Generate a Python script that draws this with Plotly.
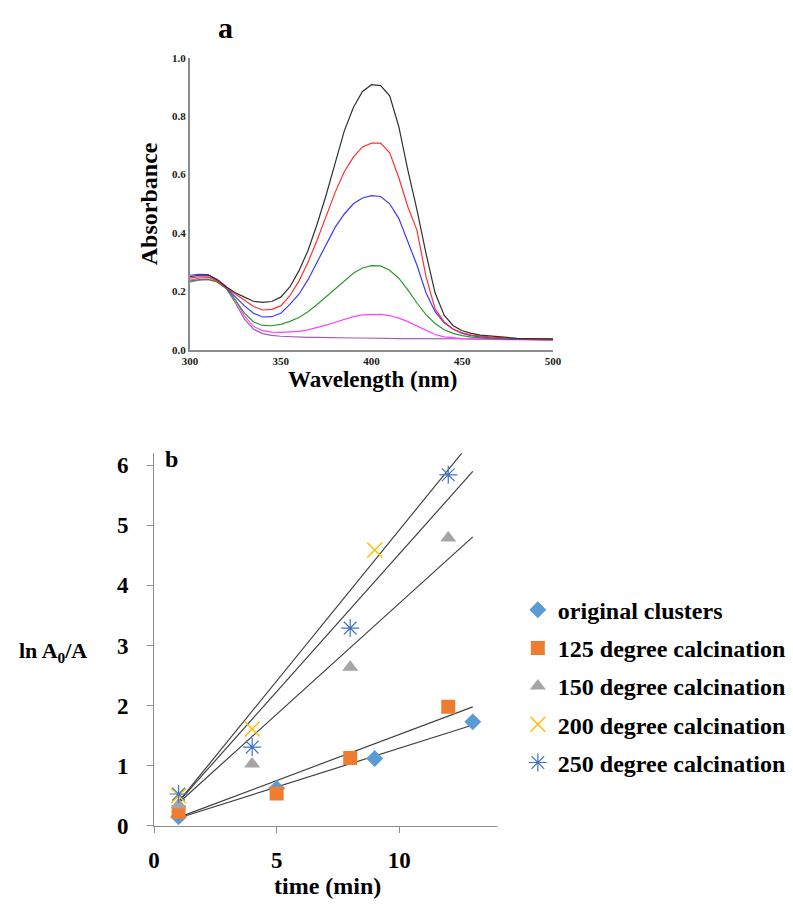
import plotly.graph_objects as go

# ---------------- Panel a data ----------------
wavelength = list(range(300, 505, 5))
abs_black = [0.250, 0.255, 0.256, 0.240, 0.215, 0.195, 0.180, 0.166, 0.162, 0.165,
             0.180, 0.215, 0.270, 0.340, 0.430, 0.530, 0.640, 0.750, 0.830, 0.885,
             0.908, 0.905, 0.870, 0.765, 0.615, 0.480, 0.330, 0.195, 0.118, 0.082,
             0.065, 0.056, 0.050, 0.047, 0.044, 0.041, 0.039, 0.038, 0.038, 0.037, 0.037]
abs_red = [0.245, 0.250, 0.250, 0.235, 0.212, 0.190, 0.168, 0.148, 0.136, 0.138,
           0.150, 0.185, 0.235, 0.300, 0.375, 0.460, 0.540, 0.610, 0.660, 0.695,
           0.708, 0.708, 0.675, 0.590, 0.490, 0.410, 0.250, 0.140, 0.095, 0.070,
           0.058, 0.050, 0.046, 0.043, 0.041, 0.039, 0.037, 0.036, 0.036, 0.035, 0.035]
abs_blue = [0.255, 0.258, 0.257, 0.240, 0.212, 0.180, 0.150, 0.125, 0.112, 0.113,
            0.125, 0.155, 0.190, 0.240, 0.300, 0.365, 0.420, 0.465, 0.500, 0.520,
            0.528, 0.525, 0.500, 0.450, 0.370, 0.290, 0.195, 0.130, 0.092, 0.070,
            0.056, 0.048, 0.044, 0.041, 0.039, 0.037, 0.036, 0.035, 0.035, 0.034, 0.034]
abs_green = [0.235, 0.240, 0.242, 0.232, 0.210, 0.170, 0.125, 0.095, 0.083, 0.082,
             0.087, 0.097, 0.110, 0.130, 0.155, 0.182, 0.210, 0.237, 0.262, 0.280,
             0.288, 0.287, 0.272, 0.245, 0.205, 0.160, 0.120, 0.090, 0.068, 0.056,
             0.048, 0.043, 0.040, 0.038, 0.037, 0.036, 0.035, 0.034, 0.034, 0.034, 0.034]
abs_magenta = [0.238, 0.245, 0.248, 0.240, 0.218, 0.170, 0.115, 0.080, 0.065, 0.060,
               0.059, 0.060, 0.063, 0.068, 0.075, 0.084, 0.094, 0.104, 0.113, 0.119,
               0.121, 0.121, 0.117, 0.108, 0.096, 0.082, 0.066, 0.052, 0.044, 0.040,
               0.038, 0.036, 0.035, 0.035, 0.034, 0.034, 0.034, 0.033, 0.033, 0.033, 0.033]
abs_purple = [0.232, 0.238, 0.240, 0.232, 0.210, 0.160, 0.105, 0.070, 0.055, 0.049,
              0.046, 0.044, 0.043, 0.042, 0.042, 0.041, 0.041, 0.040, 0.040, 0.040,
              0.039, 0.039, 0.039, 0.038, 0.038, 0.038, 0.038, 0.037, 0.037, 0.037,
              0.037, 0.037, 0.036, 0.036, 0.036, 0.036, 0.036, 0.036, 0.036, 0.036, 0.036]
spectra = [abs_purple, abs_magenta, abs_green, abs_blue, abs_red, abs_black]
spectra_colors = ["#a060b0", "#ff40ff", "#2e9a2e", "#3a3aff", "#ff3030", "#303030"]

# ---------------- Panel b data ----------------
series_names = ["original clusters", "125 degree calcination", "150 degree calcination",
                "200 degree calcination", "250 degree calcination"]
t_orig = [1, 5, 9, 13]
y_orig = [0.15, 0.62, 1.12, 1.73]
t_125 = [1, 5, 8, 12]
y_125 = [0.23, 0.54, 1.13, 1.98]
t_150 = [1, 4, 8, 12]
y_150 = [0.35, 1.03, 2.64, 4.79]
t_200 = [1, 4, 9]
y_200 = [0.50, 1.61, 4.59]
t_250 = [1, 4, 8, 12]
y_250 = [0.53, 1.31, 3.29, 5.84]
# trendlines (slope, intercept), drawn over t = 1..13
trend_slope = [0.129, 0.1533, 0.369, 0.502, 0.458]
trend_intercept = [0.001, -0.013, 0.011, -0.10, -0.058]
trend_t = [1, 13]

W, H = 793, 911
def px(x):
    return x / W
def py(y):
    return 1 - y / H

fig = go.Figure()

for vals, col in zip(spectra, spectra_colors):
    fig.add_trace(go.Scatter(x=wavelength, y=vals, mode="lines",
                             line=dict(color=col, width=1.2),
                             xaxis="x", yaxis="y", showlegend=False, hoverinfo="skip"))

# trendlines
for s, b in zip(trend_slope, trend_intercept):
    fig.add_trace(go.Scatter(x=trend_t, y=[s * t + b for t in trend_t], mode="lines",
                             line=dict(color="#404040", width=1.2),
                             xaxis="x2", yaxis="y2", showlegend=False, hoverinfo="skip"))

marker_specs = [
    (t_orig, y_orig, dict(symbol="diamond", size=13, color="#5B9BD5")),
    (t_125, y_125, dict(symbol="square", size=14, color="#ED7D31")),
    (t_150, y_150, dict(symbol="triangle-up", size=14, color="#A5A5A5")),
    (t_200, y_200, dict(symbol="x-thin-open", size=15, color="#FFC000",
                        line=dict(color="#FFC000", width=1.5))),
    (t_250, y_250, dict(symbol="asterisk-open", size=15, color="#4472C4",
                        line=dict(color="#4472C4", width=1.2))),
]
for i, (name, (tx, ty, mk)) in enumerate(zip(series_names, marker_specs)):
    fig.add_trace(go.Scatter(x=tx, y=ty, mode="markers", name=name, marker=mk,
                             xaxis="x2", yaxis="y2", legendgroup=f"g{i}"))

axis_col = "#8c8c8c"
serif = "Liberation Serif"

def ann(text, x, y, size, angle=0):
    return dict(text=text, x=px(x), y=py(y), xref="paper", yref="paper",
                xanchor="center", yanchor="middle", showarrow=False, textangle=angle,
                font=dict(family=serif, size=size, weight="bold", color="black"))

fig.update_layout(
    width=W, height=H, margin=dict(l=0, r=0, t=0, b=0),
    paper_bgcolor="white", plot_bgcolor="white",
    font=dict(family=serif, color="black"),
    xaxis=dict(domain=[px(186), px(557)], range=[300, 500], anchor="y",
               tickvals=[300, 350, 400, 450, 500], showgrid=False, zeroline=False,
               showline=True, linecolor=axis_col, linewidth=2, ticks="",
               tickfont=dict(family=serif, size=11, weight="bold", color="#202020"),
               ticklabelstandoff=0),
    yaxis=dict(domain=[py(351), py(53)], range=[0, 1.0], anchor="x",
               tickvals=[0, 0.2, 0.4, 0.6, 0.8, 1.0], ticktext=["0.0", "0.2", "0.4", "0.6", "0.8", "1.0"],
               showgrid=False, zeroline=False,
               showline=True, linecolor=axis_col, linewidth=2, ticks="",
               tickfont=dict(family=serif, size=11, weight="bold", color="#202020"),
               ticklabelstandoff=0),
    xaxis2=dict(domain=[px(149.3), px(500)], range=[0, 14], anchor="y2",
                tickvals=[0, 5, 10], showgrid=False, zeroline=False,
                showline=True, linecolor=axis_col, linewidth=1.2,
                ticks="outside", ticklen=6, tickcolor=axis_col,
                tickfont=dict(family=serif, size=23, weight="bold"),
                ticklabelstandoff=7),
    yaxis2=dict(domain=[py(837.3), py(456.7)], range=[0, 6.2], anchor="x2",
                tickvals=[0, 1, 2, 3, 4, 5, 6], showgrid=False, zeroline=False,
                showline=True, linecolor=axis_col, linewidth=1.2,
                ticks="outside", ticklen=6, tickcolor=axis_col,
                tickfont=dict(family=serif, size=23, weight="bold"),
                ticklabelstandoff=14),
    legend=dict(x=px(521), y=py(594), xanchor="left", yanchor="top",
                font=dict(family=serif, size=24, weight="bold"),
                tracegroupgap=4, bgcolor="rgba(0,0,0,0)", itemwidth=30),
    annotations=[
        ann("a", 222, 22, 30),
        ann("Absorbance", 143.5, 202, 24, -90),
        ann("Wavelength (nm)", 372, 381, 23),
        ann("b", 167, 463, 24),
        ann("ln A<sub>0</sub>/A", 46, 660, 22),
        ann("time (min)", 326, 899, 24),
    ],
)

fig.write_html("out.html", config={"displayModeBar": False},
               post_script="document.body.style.margin='0';document.body.style.overflow='hidden';")
